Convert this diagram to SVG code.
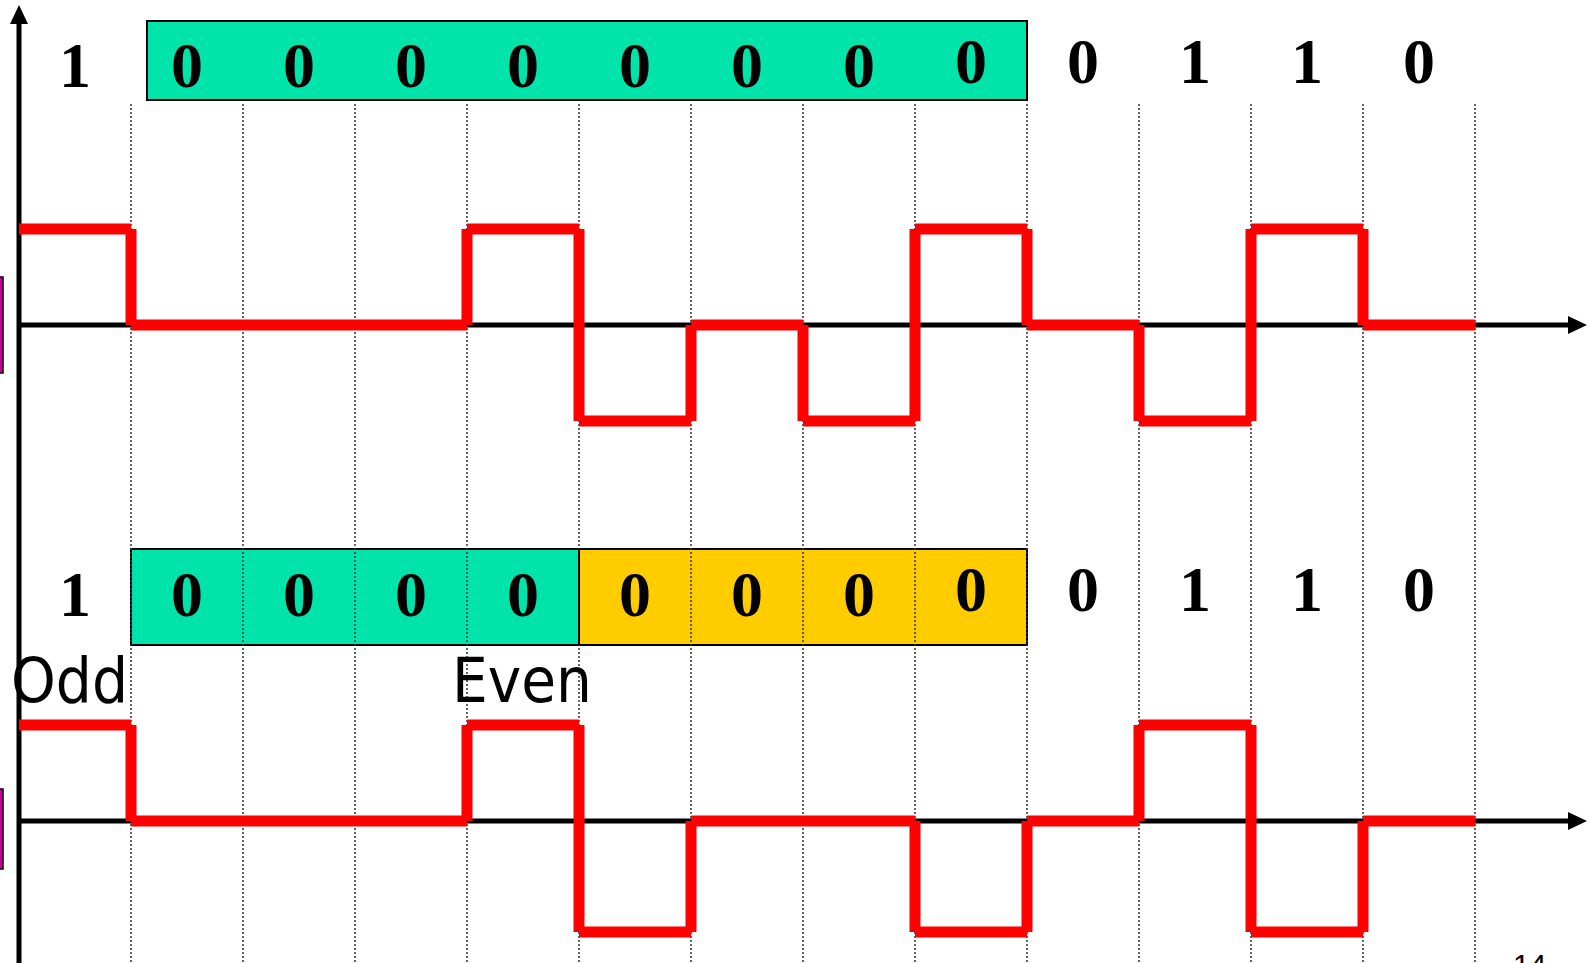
<svg xmlns="http://www.w3.org/2000/svg" width="1594" height="963" viewBox="0 0 1594 963">
<defs>
<style>
.grid{stroke:#333;stroke-width:1.5;stroke-dasharray:2 2;fill:none}
.axis{stroke:#000;stroke-width:5;fill:none}
.wave{stroke:#ff0000;stroke-width:11;fill:none;stroke-linecap:butt}
.box{stroke:#000;stroke-width:2}
.teal{fill:#00e3aa}
.yel{fill:#ffcc00}
.bit{font-family:"Liberation Serif","Times New Roman",serif;font-weight:bold;font-size:64px;text-anchor:middle;fill:#000}
.lbl{font-family:"DejaVu Sans","Verdana",sans-serif;font-size:63px;fill:#000}
.mag{fill:#cc0099;stroke:#000;stroke-width:1.5}
</style>
<marker id="arr" markerUnits="userSpaceOnUse" markerWidth="20" markerHeight="18" refX="2" refY="9" orient="auto">
<path d="M0,0 L19,9 L0,18 z" fill="#000"/>
</marker>
</defs>
<rect width="1594" height="963" fill="#fff"/>

<g id="side-marks">
<rect class="mag" x="-10" y="277" width="13" height="96"/>
<rect class="mag" x="-10" y="789" width="13" height="80"/>
</g>

<g id="bottom-box">
<rect class="box teal" x="131" y="549" width="448" height="96"/>
<rect class="box yel" x="579" y="549" width="448" height="96"/>
</g>

<g id="grid">
<path class="grid" d="M131,104V963 M243,104V963 M355,104V963 M467,104V963 M579,104V963 M691,104V963 M803,104V963 M915,104V963 M1027,104V963 M1139,104V963 M1251,104V963 M1363,104V963 M1475,104V963"/>
</g>
<line x1="579" y1="549" x2="579" y2="645" stroke="#000" stroke-width="2"/>

<g id="top-box">
<rect class="box teal" x="147" y="21" width="880" height="79"/>
</g>

<g id="axes">
<line class="axis" x1="19" y1="963" x2="19" y2="22" marker-end="url(#arr)"/>
<line class="axis" x1="19" y1="325" x2="1570" y2="325" marker-end="url(#arr)"/>
<line class="axis" x1="19" y1="821" x2="1570" y2="821" marker-end="url(#arr)"/>
</g>

<g id="top-wave">
<path class="wave" d="M19,229H131 M131,229V325 M131,325H467 M467,325V229 M467,229H579 M579,229V421 M579,421H691 M691,421V325 M691,325H803 M803,325V421 M803,421H915 M915,421V229 M915,229H1027 M1027,229V325 M1027,325H1139 M1139,325V421 M1139,421H1251 M1251,421V229 M1251,229H1363 M1363,229V325 M1363,325H1475"/>
</g>

<g id="bottom-wave">
<path class="wave" d="M19,725H131 M131,725V821 M131,821H467 M467,821V725 M467,725H579 M579,725V932 M579,932H691 M691,932V821 M691,821H915 M915,821V932 M915,932H1027 M1027,932V821 M1027,821H1139 M1139,821V725 M1139,725H1251 M1251,725V932 M1251,932H1363 M1363,932V821 M1363,821H1475"/>
</g>

<g id="top-bits">
<text class="bit" x="75" y="87">1</text>
<text class="bit" x="187" y="87">0</text>
<text class="bit" x="299" y="87">0</text>
<text class="bit" x="411" y="87">0</text>
<text class="bit" x="523" y="87">0</text>
<text class="bit" x="635" y="87">0</text>
<text class="bit" x="747" y="87">0</text>
<text class="bit" x="859" y="87">0</text>
<text class="bit" x="971" y="83">0</text>
<text class="bit" x="1083" y="83">0</text>
<text class="bit" x="1195" y="83">1</text>
<text class="bit" x="1307" y="83">1</text>
<text class="bit" x="1419" y="83">0</text>
</g>

<g id="bottom-bits">
<text class="bit" x="75" y="616">1</text>
<text class="bit" x="187" y="616">0</text>
<text class="bit" x="299" y="616">0</text>
<text class="bit" x="411" y="616">0</text>
<text class="bit" x="523" y="616">0</text>
<text class="bit" x="635" y="616">0</text>
<text class="bit" x="747" y="616">0</text>
<text class="bit" x="859" y="616">0</text>
<text class="bit" x="971" y="611">0</text>
<text class="bit" x="1083" y="611">0</text>
<text class="bit" x="1195" y="611">1</text>
<text class="bit" x="1307" y="611">1</text>
<text class="bit" x="1419" y="611">0</text>
</g>

<g id="labels">
<text class="lbl" x="11" y="702" textLength="117" lengthAdjust="spacingAndGlyphs">Odd</text>
<text class="lbl" x="452" y="702" textLength="140" lengthAdjust="spacingAndGlyphs">Even</text>
<text x="1513" y="975" font-family="'Liberation Sans',Arial,sans-serif" font-size="30" fill="#000">14</text>
</g>
</svg>
